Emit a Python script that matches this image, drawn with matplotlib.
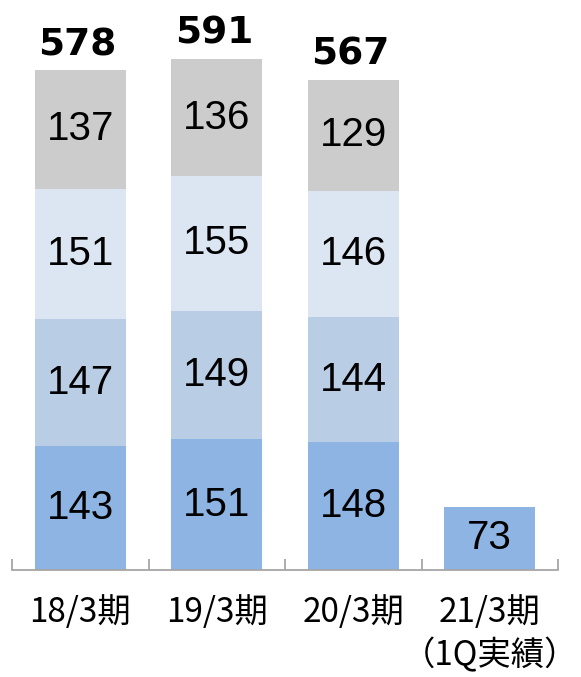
import numpy as np
from matplotlib import pyplot as plt

categories = ['18/3期', '19/3期', '20/3期', '21/3期\n（1Q実績）']
seg1 = [143, 151, 148, 73]
seg2 = [147, 149, 144, 0]
seg3 = [151, 155, 146, 0]
seg4 = [137, 136, 129, 0]
totals = [578, 591, 567, None]

colors = ['#8DB4E2', '#B9CDE5', '#DCE6F2', '#CCCCCC']


def draw_stacked(ax, series):
    """stack the series and write the value inside each block"""
    index = np.arange(len(categories))
    bottom = np.zeros(len(categories))
    for vals, col in zip(series, colors):
        vals = np.array(vals, dtype=float)
        ax.bar(index, vals, 0.665, bottom=bottom, color=col, edgecolor='none')
        for i, v in enumerate(vals):
            if v > 0:
                ax.text(index[i], bottom[i] + v / 2, '%d' % v, ha='center', va='center',
                        fontsize=29, family='Liberation Sans', color='black')
        bottom = bottom + vals
    for i, t in enumerate(totals):
        if t is not None:
            ax.annotate('%d' % t, (index[i], bottom[i]), xytext=(-2, 5), textcoords='offset points',
                        ha='center', va='bottom', fontsize=27, fontweight='bold',
                        family='DejaVu Sans')


fig = plt.figure(figsize=(5.81, 6.77), dpi=100)
ax = fig.add_axes([0.0207, 0.158, 0.9398, 0.842])
draw_stacked(ax, [seg1, seg2, seg3, seg4])

ax.set_xlim(-0.5, 3.5)
ax.set_ylim(0, 659)
for s in ['top', 'right', 'left']:
    ax.spines[s].set_visible(False)
ax.spines['bottom'].set_color('#A6A6A6')
ax.spines['bottom'].set_linewidth(1.3)
ax.set_yticks([])

# tick marks sit on the category boundaries, labels in the middle
ax.set_xticks(np.arange(-0.5, 4, 1.0))
ax.set_xticklabels([])
ax.tick_params(axis='x', which='major', direction='in', length=8, width=1.3, color='#A6A6A6')
ax.set_xticks(np.arange(len(categories)), minor=True)
ax.set_xticklabels(categories, minor=True, fontsize=24, linespacing=1.3,
                   family=['Noto Sans CJK JP', 'DejaVu Sans'])
ax.tick_params(axis='x', which='minor', length=0, pad=18)

fig.savefig('out.png', dpi=100)
